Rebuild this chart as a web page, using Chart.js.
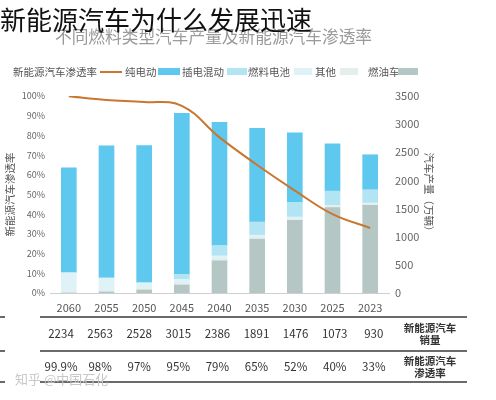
<!DOCTYPE html>
<html><head><meta charset="utf-8">
<script src="https://cdn.jsdelivr.net/npm/chart.js@4/dist/chart.umd.min.js"></script>
<style>
html,body{margin:0;padding:0;background:#fff;}
body{width:496px;height:400px;position:relative;overflow:hidden;font-family:"Noto Sans CJK SC","Noto Sans",sans-serif;}
#c{position:absolute;left:0;top:0;}
.abs{position:absolute;white-space:nowrap;}
#title{left:0;top:3px;font-size:26px;color:#111;line-height:32px;z-index:3;}
#sub{left:55px;top:26px;font-size:16.7px;color:#9a9a9a;line-height:20px;z-index:2;}
.leg{position:absolute;top:65px;font-size:10.5px;color:#555;line-height:14px;}
.sw{position:absolute;}
.hl{position:absolute;height:1.5px;background:#6a6a6a;}
.cell{position:absolute;font-size:11.5px;color:#333;transform:translateX(-50%);line-height:14px;}
.hdr{position:absolute;font-size:10.5px;color:#333;text-align:center;line-height:12px;font-weight:bold;}
#wm{left:15px;top:369px;font-size:13px;color:#c8c8c8;}
</style></head>
<body>
<canvas id="c" width="496" height="400"></canvas>
<div id="title" class="abs">新能源汽车为什么发展迅速</div>
<div id="sub" class="abs">不同燃料类型汽车产量及新能源汽车渗透率</div>
<div id="legend"></div>
<div id="table"></div>
<div id="wm" class="abs">知乎 @中国石化</div>
<script>
// Categories in the order they appear left to right
const years = ['2060','2055','2050','2045','2040','2035','2030','2025','2023'];
// Production by fuel type (万辆)
const fuelCar  = [0, 18, 53, 142, 572, 956, 1293, 1517, 1558];
const others   = [20, 20, 20, 30, 30, 30, 25, 20, 20];
const fuelCell = [340, 228, 109, 71, 59, 41, 33, 21, 21];
const phev     = [0, 0, 0, 89, 184, 235, 260, 253, 237];
const bev      = [1866, 2347, 2437, 2862, 2189, 1665, 1234, 839, 620];
// NEV penetration (%)
const penetration = [99.9, 98, 97, 95, 79, 65, 52, 40, 33];
// Table rows
const nevSales = [2234, 2563, 2528, 3015, 2386, 1891, 1476, 1073, 930];
const penLabels = ['99.9%','98%','97%','95%','79%','65%','52%','40%','33%'];
// Axis ticks
const pctMax = 100, pctStep = 10;
const cntMax = 3500, cntStep = 500;

const colors = {fuel:'#b4c7c4', other:'#e6eded', cell:'#def2f8', phev:'#b3e4f4', bev:'#5ec8ef', line:'#c9762f'};

const tickFont = {family:'"Noto Sans CJK SC", sans-serif'};
new Chart(document.getElementById('c'), {
  data: {
    labels: years,
    datasets: [
      {type:'line', label:'新能源汽车渗透率', data: penetration, yAxisID:'pct', borderColor: colors.line, borderWidth:2, pointRadius:0, tension:0.4, fill:false, order:0},
      {type:'bar', label:'燃油车', data: fuelCar, yAxisID:'cnt', backgroundColor: colors.fuel, stack:'s', order:1},
      {type:'bar', label:'其他', data: others, yAxisID:'cnt', backgroundColor: colors.other, stack:'s', order:1},
      {type:'bar', label:'燃料电池', data: fuelCell, yAxisID:'cnt', backgroundColor: colors.cell, stack:'s', order:1},
      {type:'bar', label:'插电混动', data: phev, yAxisID:'cnt', backgroundColor: colors.phev, stack:'s', order:1},
      {type:'bar', label:'纯电动', data: bev, yAxisID:'cnt', backgroundColor: colors.bev, stack:'s', order:1}
    ]
  },
  options: {
    responsive:false, animation:false,
    layout:{padding:{left:0, right:57, top:96, bottom:77}},
    plugins:{legend:{display:false}, tooltip:{enabled:false}},
    datasets:{bar:{barThickness:15}},
    scales:{
      x:{
        stacked:true,
        grid:{display:false, drawTicks:false},
        border:{display:true, color:'#cfcfcf', width:1},
        ticks:{padding:8, color:'#555', font:{...tickFont, size:11}},
        afterFit(s){ s.height = 30; }
      },
      pct:{
        type:'linear', position:'left', min:0, max:pctMax,
        grid:{display:false, drawTicks:false}, border:{display:false},
        ticks:{stepSize:pctStep, padding:5, color:'#666', font:{...tickFont, size:9}, callback:v=>v+'%'},
        title:{display:true, text:'新能源汽车渗透率', color:'#555', font:{...tickFont, size:10.5}, padding:{top:4,bottom:0}},
        afterFit(s){ s.width = 50; }
      },
      cnt:{
        type:'linear', position:'right', min:0, max:cntMax, stacked:true,
        grid:{display:false, drawTicks:false}, border:{display:false},
        ticks:{stepSize:cntStep, padding:6, color:'#666', font:{...tickFont, size:11}, callback:v=>String(v)},
        title:{display:true, text:'汽车产量（万辆）', color:'#555', font:{...tickFont, size:10.5}, padding:{top:4,bottom:0}},
        afterFit(s){ s.width = 50; }
      }
    }
  }
});

// Legend (HTML)
const legItems = [
  {t:'新能源汽车渗透率', x:13, sx:100, sw:22, c:colors.line, line:true},
  {t:'纯电动', x:125, sx:158, sw:22, c:colors.bev},
  {t:'插电混动', x:182, sx:227, sw:20, c:colors.phev},
  {t:'燃料电池', x:248, sx:294, sw:18, c:colors.cell},
  {t:'其他', x:315, sx:340, sw:18, c:colors.other},
  {t:'燃油车', x:368, sx:398, sw:20, c:colors.fuel}
];
const lg = document.getElementById('legend');
legItems.forEach(it=>{
  const d=document.createElement('div'); d.className='leg'; d.style.left=it.x+'px'; d.textContent=it.t; lg.appendChild(d);
  const s=document.createElement('div'); s.className='sw'; s.style.left=it.sx+'px'; s.style.width=it.sw+'px';
  s.style.background=it.c;
  if(it.line){ s.style.top='71px'; s.style.height='2px'; } else { s.style.top='68px'; s.style.height='7px'; }
  lg.appendChild(s);
});

// Table (HTML)
const tb = document.getElementById('table');
[[316,40,427],[350,40,427],[381,40,427]].forEach(([y,x,w])=>{
  const l=document.createElement('div'); l.className='hl'; l.style.top=y+'px'; l.style.left=x+'px'; l.style.width=w+'px'; tb.appendChild(l);
});
[316,350,381].forEach(y=>{
  const l=document.createElement('div'); l.className='hl'; l.style.top=y+'px'; l.style.left='0px'; l.style.width='5px'; tb.appendChild(l);
});
years.forEach((y,i)=>{
  const cx = 61 + i*39.1;
  const a=document.createElement('div'); a.className='cell'; a.style.left=cx+'px'; a.style.top='326px'; a.textContent=nevSales[i]; tb.appendChild(a);
  const b=document.createElement('div'); b.className='cell'; b.style.left=cx+'px'; b.style.top='359px'; b.textContent=penLabels[i]; tb.appendChild(b);
});
const h1=document.createElement('div'); h1.className='hdr'; h1.style.left='400px'; h1.style.top='322px'; h1.style.width='60px'; h1.innerHTML='新能源汽车<br>销量'; tb.appendChild(h1);
const h2=document.createElement('div'); h2.className='hdr'; h2.style.left='400px'; h2.style.top='355px'; h2.style.width='60px'; h2.innerHTML='新能源汽车<br>渗透率'; tb.appendChild(h2);
</script>
</body></html>
